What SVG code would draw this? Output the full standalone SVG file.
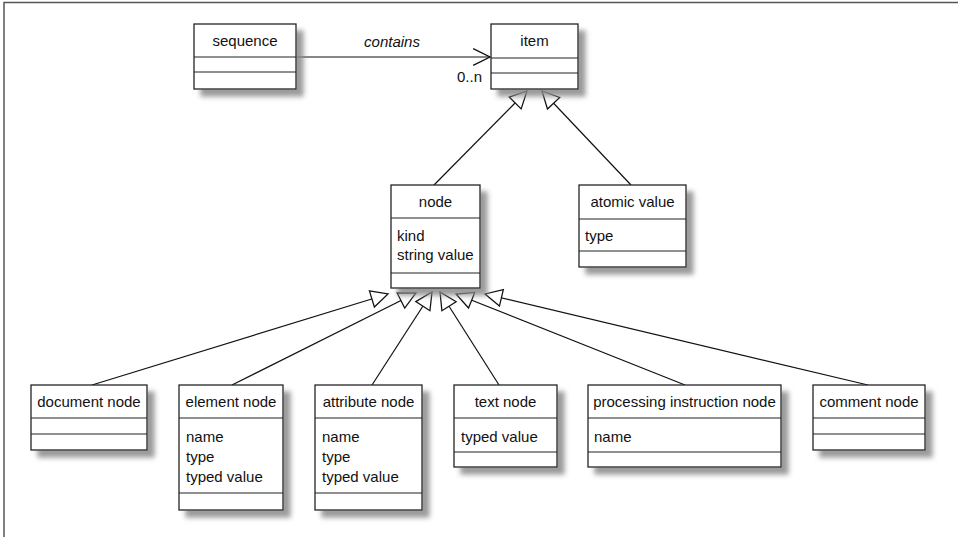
<svg xmlns="http://www.w3.org/2000/svg" width="958" height="537" viewBox="0 0 958 537">
<defs>
<filter id="sh" x="-20%" y="-20%" width="150%" height="150%">
<feGaussianBlur in="SourceAlpha" stdDeviation="2.5" result="b"/>
<feOffset in="b" dx="7" dy="7" result="o"/>
<feFlood flood-color="#8a8a8a" flood-opacity="0.85"/>
<feComposite in2="o" operator="in" result="s"/>
<feMerge><feMergeNode in="s"/><feMergeNode in="SourceGraphic"/></feMerge>
</filter>
<marker id="gen" markerUnits="userSpaceOnUse" markerWidth="20" markerHeight="20" viewBox="-1 -1 19 18" refX="16" refY="8" orient="auto" overflow="visible">
<path d="M0,0 L16,8 L0,16 Z" fill="#fff" stroke="#111" stroke-width="1.2" stroke-linejoin="miter"/>
</marker>
<marker id="open" markerUnits="userSpaceOnUse" markerWidth="20" markerHeight="20" viewBox="-1 -1 19 18" refX="16" refY="8" orient="auto" overflow="visible">
<path d="M0,0 L16,8 L0,16" fill="none" stroke="#111" stroke-width="1.3"/>
</marker>
</defs>
<style>
.box{fill:#fff;stroke:#222;stroke-width:1.3;filter:url(#sh)}
.div{stroke:#222;stroke-width:1.2}
.t{font-family:"Liberation Sans",Arial,sans-serif;font-size:15px;fill:#111}
.c{text-anchor:middle}
.conn{stroke:#111;stroke-width:1.2;fill:none}
.frame{stroke:#555;stroke-width:1.5;fill:none}
</style>
<path class="frame" d="M4,537 L4,2.5 L958,2.5"/>
<g id="connectors">
<line class="conn" x1="296" y1="57" x2="490" y2="57" marker-end="url(#open)"/>
<line class="conn" x1="434" y1="185" x2="527" y2="91" marker-end="url(#gen)"/>
<line class="conn" x1="631" y1="185" x2="542" y2="91" marker-end="url(#gen)"/>
<line class="conn" x1="92" y1="385" x2="388" y2="294" marker-end="url(#gen)"/>
<line class="conn" x1="232" y1="385" x2="416" y2="293" marker-end="url(#gen)"/>
<line class="conn" x1="372" y1="385" x2="432" y2="292" marker-end="url(#gen)"/>
<line class="conn" x1="499" y1="385" x2="440" y2="292" marker-end="url(#gen)"/>
<line class="conn" x1="685" y1="385" x2="456" y2="294" marker-end="url(#gen)"/>
<line class="conn" x1="868" y1="385" x2="485" y2="294" marker-end="url(#gen)"/>
<text class="t c" x="392" y="47" font-style="italic">contains</text>
<text class="t" x="457" y="82">0..n</text>
</g>
<g id="sequence">
<rect class="box" x="194" y="24" width="102" height="65"/>
<line class="div" x1="194" y1="57" x2="296" y2="57"/>
<line class="div" x1="194" y1="72" x2="296" y2="72"/>
<text class="t c" x="245" y="46">sequence</text>
</g>
<g id="item">
<rect class="box" x="491" y="24" width="87" height="65"/>
<line class="div" x1="491" y1="58" x2="578" y2="58"/>
<line class="div" x1="491" y1="73" x2="578" y2="73"/>
<text class="t c" x="534.5" y="46">item</text>
</g>
<g id="node">
<rect class="box" x="391" y="185" width="89" height="103"/>
<line class="div" x1="391" y1="218" x2="480" y2="218"/>
<line class="div" x1="391" y1="273" x2="480" y2="273"/>
<text class="t c" x="435.5" y="207">node</text>
<text class="t" x="397" y="241">kind</text>
<text class="t" x="397" y="260">string value</text>
</g>
<g id="atomic-value">
<rect class="box" x="579" y="185" width="107" height="82"/>
<line class="div" x1="579" y1="219" x2="686" y2="219"/>
<line class="div" x1="579" y1="251" x2="686" y2="251"/>
<text class="t c" x="632.5" y="207">atomic value</text>
<text class="t" x="585" y="241">type</text>
</g>
<g id="document-node">
<rect class="box" x="31" y="385" width="116" height="65"/>
<line class="div" x1="31" y1="418" x2="147" y2="418"/>
<line class="div" x1="31" y1="434" x2="147" y2="434"/>
<text class="t c" x="89" y="407">document node</text>
</g>
<g id="element-node">
<rect class="box" x="179" y="385" width="104" height="125"/>
<line class="div" x1="179" y1="418" x2="283" y2="418"/>
<line class="div" x1="179" y1="493" x2="283" y2="493"/>
<text class="t c" x="231" y="407">element node</text>
<text class="t" x="186" y="442">name</text>
<text class="t" x="186" y="462">type</text>
<text class="t" x="186" y="482">typed value</text>
</g>
<g id="attribute-node">
<rect class="box" x="315" y="385" width="107" height="125"/>
<line class="div" x1="315" y1="418" x2="422" y2="418"/>
<line class="div" x1="315" y1="493" x2="422" y2="493"/>
<text class="t c" x="368.5" y="407">attribute node</text>
<text class="t" x="322" y="442">name</text>
<text class="t" x="322" y="462">type</text>
<text class="t" x="322" y="482">typed value</text>
</g>
<g id="text-node">
<rect class="box" x="454" y="385" width="103" height="82"/>
<line class="div" x1="454" y1="418" x2="557" y2="418"/>
<line class="div" x1="454" y1="452" x2="557" y2="452"/>
<text class="t c" x="505.5" y="407">text node</text>
<text class="t" x="461" y="442">typed value</text>
</g>
<g id="processing-instruction-node">
<rect class="box" x="588" y="385" width="193" height="82"/>
<line class="div" x1="588" y1="418" x2="781" y2="418"/>
<line class="div" x1="588" y1="452" x2="781" y2="452"/>
<text class="t c" x="684.5" y="407">processing instruction node</text>
<text class="t" x="594" y="442">name</text>
</g>
<g id="comment-node">
<rect class="box" x="813" y="385" width="112" height="65"/>
<line class="div" x1="813" y1="418" x2="925" y2="418"/>
<line class="div" x1="813" y1="434" x2="925" y2="434"/>
<text class="t c" x="869" y="407">comment node</text>
</g>
</svg>
